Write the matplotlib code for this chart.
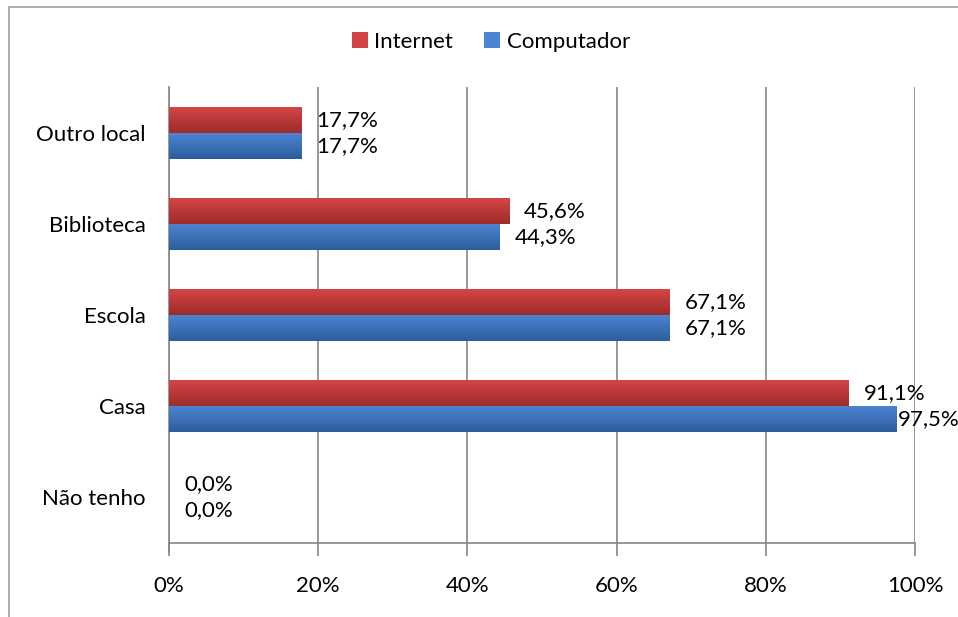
import numpy as np
import matplotlib.pyplot as plt
from matplotlib.patches import Rectangle, Patch
from matplotlib.colors import to_rgb

plt.rcParams['font.family'] = ['Lato', 'DejaVu Sans']

# dados (percentuais)
categorias = ["Não tenho", "Casa", "Escola", "Biblioteca", "Outro local"]
internet = [0.0, 91.1, 67.1, 45.6, 17.7]
computador = [0.0, 97.5, 67.1, 44.3, 17.7]
xticks = [0, 20, 40, 60, 80, 100]

# cores do degradê (topo, base)
cor_internet = ("#d44444", "#9e2c2c")
cor_computador = ("#4c84d2", "#2d5d9c")

fs = 16

fig = plt.figure(figsize=(9.58, 6.17), dpi=100)
ax = fig.add_axes([169 / 958, 74 / 617, 746 / 958, 456 / 617])

# moldura externa do gráfico
fig.patches.append(Rectangle((9 / 958, -0.1), 1.2, 1.1 - 7 / 617,
                             transform=fig.transFigure, fill=False,
                             edgecolor="#a0a0a0", linewidth=1.2, zorder=0))

altura = 0.285


def barra_gradiente(ax, y0, valor, cores):
    if valor <= 0:
        return
    c0 = np.array(to_rgb(cores[0]))
    c1 = np.array(to_rgb(cores[1]))
    t = np.linspace(0, 1, 32)[:, None]
    grad = (c0 * (1 - t) + c1 * t)[:, None, :]
    # linha 0 (clara) fica no topo da barra
    ax.imshow(grad, extent=[0, valor, y0, y0 + altura], aspect="auto",
              interpolation="bilinear", zorder=3, origin="upper")


def rotulo(v):
    return f"{v:.1f}%".replace(".", ",")


y = np.arange(len(categorias))
for i in range(len(categorias)):
    barra_gradiente(ax, y[i], internet[i], cor_internet)
    barra_gradiente(ax, y[i] - altura, computador[i], cor_computador)
    ax.text(internet[i] + 2.0, y[i] + altura / 2, rotulo(internet[i]),
            va="center", ha="left", fontsize=fs, color="black", zorder=4)
    # perto da borda o rótulo encosta na barra
    desloc = 2.0 if computador[i] < 95 else 0.2
    ax.text(computador[i] + desloc, y[i] - altura / 2, rotulo(computador[i]),
            va="center", ha="left", fontsize=fs, color="black", zorder=4, clip_on=False)

ax.set_xlim(0, 100)
ax.set_ylim(-0.5, 4.5)
ax.set_xticks(xticks)
ax.set_xticklabels([f"{v}%" for v in xticks], fontsize=fs)
ax.set_yticks(y)
ax.set_yticklabels(categorias, fontsize=fs)
ax.tick_params(axis="y", length=0, pad=17)
ax.tick_params(axis="x", length=9, width=1.2, color="#868686", pad=15)

ax.grid(axis="x", color="#868686", linewidth=1.2, zorder=1)
ax.set_axisbelow(True)
for lado in ["top", "right"]:
    ax.spines[lado].set_visible(False)
for lado in ["left", "bottom"]:
    ax.spines[lado].set_color("#868686")
    ax.spines[lado].set_linewidth(1.2)
ax.spines["left"].set_bounds(-0.6, 4.5)

handles = [Patch(facecolor=cor_internet[0], edgecolor="none", label="Internet"),
           Patch(facecolor=cor_computador[0], edgecolor="none", label="Computador")]
fig.legend(handles=handles, loc="center", bbox_to_anchor=(491 / 958, 1 - 42 / 617),
           ncol=2, frameon=False, fontsize=fs, handlelength=0.7, handleheight=0.7,
           handletextpad=0.3, columnspacing=1.4)

fig.savefig("out.png", dpi=100)
